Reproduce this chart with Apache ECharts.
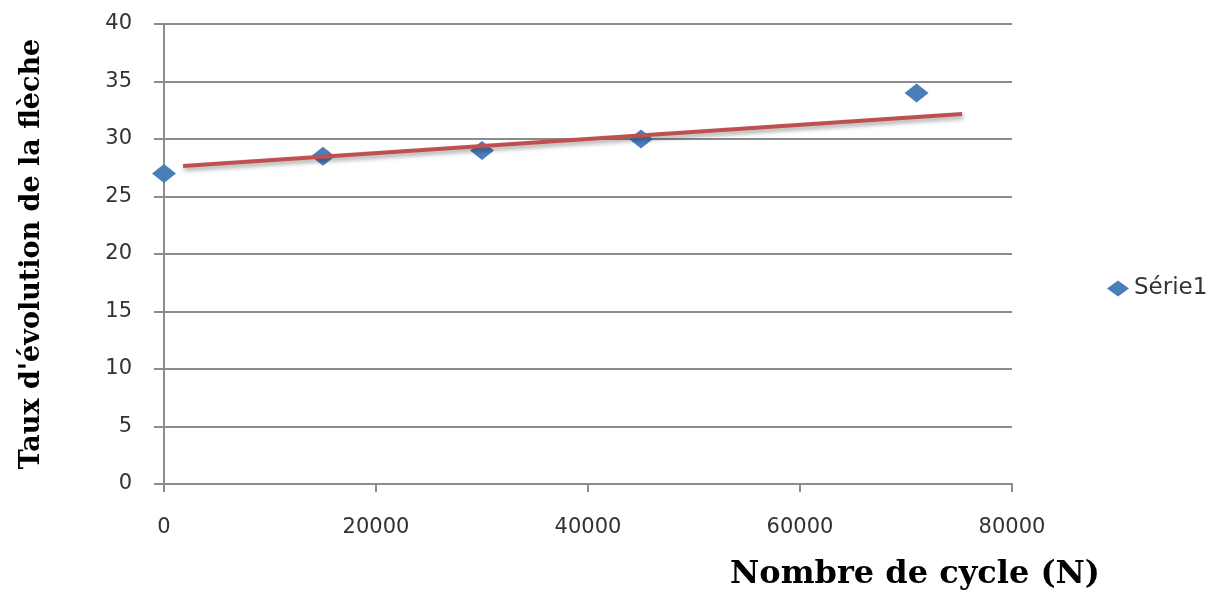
<!DOCTYPE html>
<html>
<head>
<meta charset="utf-8">
<script src="https://cdn.jsdelivr.net/npm/echarts@6/dist/echarts.min.js"></script>
<style>
  html, body { margin: 0; padding: 0; background: #ffffff; }
  #chart { width: 1219px; height: 592px; }
</style>
</head>
<body>
<div id="chart"></div>
<script>
// Measured deflection rate versus number of cycles
const cycles = [0, 15000, 30000, 45000, 71000];
const rates = [27, 28.5, 29, 30, 34];

// Linear trend drawn across the measured range (start / end)
const trendCycles = [1800, 75300];
const trendRates = [27.65, 32.17];

const yTicks = [0, 5, 10, 15, 20, 25, 30, 35, 40];
const xTicks = [0, 20000, 40000, 60000, 80000];

const seriesName = 'Série1';
const xTitle = 'Nombre de cycle (N)';
const yTitle = "Taux d'évolution de la flèche";

const chart = echarts.init(document.getElementById('chart'), null, { renderer: 'canvas' });

const axisGray = '#8c8c8c';
const tickFont = { fontFamily: 'DejaVu Sans', fontSize: 21, color: '#333333' };

chart.setOption({
  animation: false,
  backgroundColor: '#ffffff',
  grid: { left: 164, right: 207, top: 24, bottom: 108, containLabel: false },
  legend: {
    data: [{ name: seriesName, icon: 'diamond' }],
    orient: 'vertical',
    left: 1102,
    top: 272,
    itemWidth: 22,
    itemHeight: 16,
    itemGap: 6,
    textStyle: { fontFamily: 'DejaVu Sans', fontSize: 23, color: '#333333' }
  },
  xAxis: {
    type: 'value',
    min: xTicks[0],
    max: xTicks[xTicks.length - 1],
    interval: xTicks[1] - xTicks[0],
    axisLine: { show: true, lineStyle: { color: axisGray, width: 2 } },
    axisTick: { show: true, length: 8, lineStyle: { color: axisGray, width: 2 } },
    axisLabel: Object.assign({ margin: 33, formatter: (v) => String(v) }, tickFont),
    splitLine: { show: false }
  },
  yAxis: {
    type: 'value',
    min: yTicks[0],
    max: yTicks[yTicks.length - 1],
    interval: yTicks[1] - yTicks[0],
    axisLine: { show: true, lineStyle: { color: axisGray, width: 2 } },
    axisTick: { show: true, length: 10, lineStyle: { color: axisGray, width: 2 } },
    axisLabel: Object.assign({ margin: 32, formatter: (v) => String(v) }, tickFont),
    splitLine: { show: true, lineStyle: { color: axisGray, width: 2 } }
  },
  graphic: [
    {
      type: 'text',
      x: 915,
      y: 575,
      style: {
        text: xTitle,
        fontFamily: 'DejaVu Serif',
        fontWeight: 'bold',
        fontSize: 32,
        fill: '#000000',
        align: 'center',
        verticalAlign: 'middle'
      }
    },
    {
      type: 'text',
      x: 32,
      y: 254,
      rotation: Math.PI / 2,
      style: {
        text: yTitle,
        fontFamily: 'DejaVu Serif',
        fontWeight: 'bold',
        fontSize: 27,
        fill: '#000000',
        align: 'center',
        verticalAlign: 'middle'
      }
    }
  ],
  series: [
    {
      name: 'trend',
      type: 'line',
      data: trendCycles.map((c, i) => [c, trendRates[i]]),
      showSymbol: false,
      symbol: 'none',
      lineStyle: {
        color: '#c0504d',
        width: 4,
        shadowColor: 'rgba(0,0,0,0.35)',
        shadowBlur: 4,
        shadowOffsetY: 3,
        shadowOffsetX: 1
      },
      z: 3,
      silent: true
    },
    {
      name: seriesName,
      type: 'scatter',
      data: cycles.map((c, i) => [c, rates[i]]),
      symbol: 'diamond',
      symbolSize: [24, 19],
      itemStyle: { color: '#4a7ebb', opacity: 1 },
      z: 2
    }
  ]
});
</script>
</body>
</html>
